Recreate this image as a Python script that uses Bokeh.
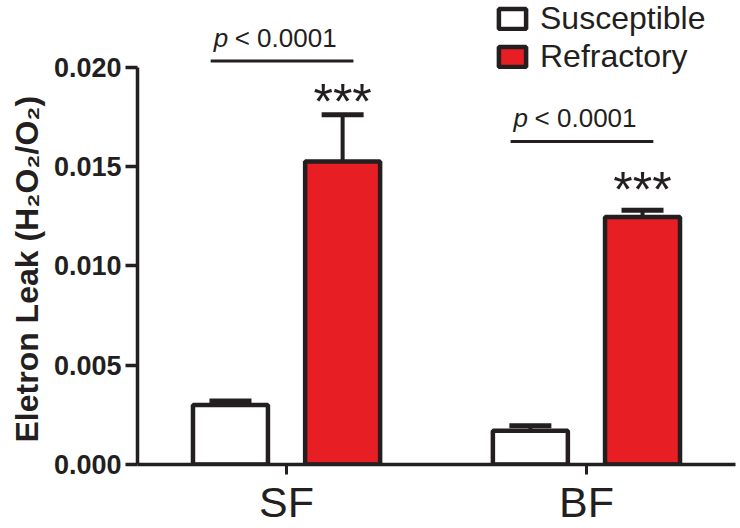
from bokeh.plotting import figure
from bokeh.models import (Range1d, FixedTicker, ColumnDataSource, Whisker, TeeHead,
                          Legend, LegendItem, PrintfTickFormatter, Title)
from bokeh.core.properties import value
from bokeh.embed import file_html
from bokeh.resources import INLINE

# ---- data ----
groups = ["SF", "BF"]
series = ["Susceptible", "Refractory"]
susceptible = [0.0030, 0.0017]
susceptible_err = [0.0002, 0.00025]
refractory = [0.01525, 0.01245]
refractory_err = [0.00235, 0.00035]
y_ticks = [0.0, 0.005, 0.010, 0.015, 0.020]
y_label = "Eletron Leak (H\u2082O\u2082/O\u2082)"
p_text = ["< 0.0001", "< 0.0001"]
sig_text = ["***", "***"]

# ---- annotation placement (data units) ----
pline_y = [0.0203, 0.01625]
ptext_y = [0.02145, 0.01745]
star_y = [0.01825, 0.0138]

INK = "#231F20"
RED = "#E81E25"
FONT = "Liberation Sans"
OFF = 0.187
BW = 0.25

idx = list(range(len(groups)))
src_s = ColumnDataSource(dict(x=[i - OFF for i in idx], top=susceptible,
                              upper=[v + e for v, e in zip(susceptible, susceptible_err)]))
src_r = ColumnDataSource(dict(x=[i + OFF for i in idx], top=refractory,
                              upper=[v + e for v, e in zip(refractory, refractory_err)]))

p = figure(width=740, height=528, output_backend="svg", toolbar_location=None,
           x_range=Range1d(-0.497, 1.497), y_range=Range1d(0, 0.02335),
           min_border_left=137, min_border_right=5, min_border_top=0, min_border_bottom=61)
p.outline_line_color = None
p.grid.visible = False
p.background_fill_color = "white"

for src in (src_s, src_r):
    w = Whisker(base="x", lower="top", upper="upper", source=src, dimension="height",
                line_color=INK, line_width=4,
                upper_head=TeeHead(size=42, line_width=5, line_color=INK), lower_head=None)
    p.add_layout(w)

rs = p.vbar(x="x", top="top", width=BW, source=src_s, fill_color="white",
            line_color=INK, line_width=4.5)
rr = p.vbar(x="x", top="top", width=BW, source=src_r, fill_color=RED,
            line_color=INK, line_width=4.5)

# p-value brackets
p.segment(x0=[i - 0.253 for i in idx], y0=pline_y, x1=[i + 0.223 for i in idx], y1=pline_y,
          line_color=INK, line_width=3)
p.text(x=[i - 0.243 for i in idx], y=ptext_y, text=["p"] * len(idx),
       text_font=value(FONT), text_font_size="26px", text_font_style="italic",
       text_align="left", text_baseline="alphabetic", text_color=INK)
p.text(x=[i - 0.243 for i in idx], y=ptext_y, text=p_text, x_offset=21,
       text_font=value(FONT), text_font_size="26px",
       text_align="left", text_baseline="alphabetic", text_color=INK)
p.text(x=[i + OFF for i in idx], y=star_y, text=sig_text,
       text_font=value(FONT), text_font_size="50px",
       text_align="center", text_baseline="alphabetic", text_color=INK)

# axes
p.yaxis.ticker = FixedTicker(ticks=y_ticks)
p.yaxis.formatter = PrintfTickFormatter(format="%.3f")
p.yaxis.bounds = (0, 0.020)
p.yaxis.axis_line_width = 3.5
p.yaxis.axis_line_color = INK
p.yaxis.major_tick_line_width = 3.5
p.yaxis.major_tick_line_color = INK
p.yaxis.major_tick_out = 12
p.yaxis.major_tick_in = 0
p.yaxis.minor_tick_line_color = None
p.yaxis.major_label_standoff = 4
p.yaxis.major_label_text_font = FONT
p.yaxis.major_label_text_font_size = "27px"
p.yaxis.major_label_text_font_style = "bold"
p.yaxis.major_label_text_color = INK

ylab = Title(text=y_label, align="left", offset=22, standoff=12,
             text_font=FONT, text_font_size="32px", text_font_style="bold", text_color=INK)
p.add_layout(ylab, "left")

p.xaxis.ticker = FixedTicker(ticks=idx)
p.xaxis.major_label_overrides = {i: g for i, g in zip(idx, groups)}
p.xaxis.axis_line_width = 3.5
p.xaxis.axis_line_color = INK
p.xaxis.major_tick_line_width = 3
p.xaxis.major_tick_line_color = INK
p.xaxis.major_tick_out = 10
p.xaxis.major_tick_in = 0
p.xaxis.minor_tick_line_color = None
p.xaxis.major_label_standoff = 3
p.xaxis.major_label_text_font = FONT
p.xaxis.major_label_text_font_size = "43px"
p.xaxis.major_label_text_color = INK

legend = Legend(items=[LegendItem(label=series[0], renderers=[rs]),
                       LegendItem(label=series[1], renderers=[rr])],
                location=(358, 389), padding=0, margin=0, spacing=1,
                glyph_width=34, glyph_height=25, label_standoff=11,
                label_text_font=FONT, label_text_font_size="32px", label_text_color=INK,
                border_line_alpha=0, background_fill_alpha=0)
p.add_layout(legend)

open("out.html", "w").write(file_html(p, INLINE))
